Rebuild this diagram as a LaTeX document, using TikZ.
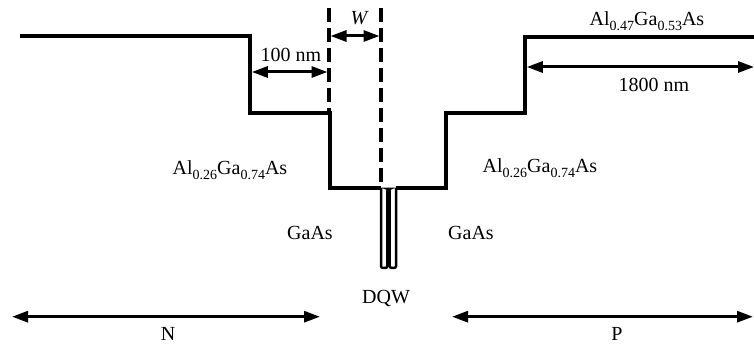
\documentclass[tikz,border=0pt]{standalone}
\usepackage{fontspec}
\setmainfont{Liberation Serif}
\usetikzlibrary{arrows.meta}
\newcommand\subtxt[1]{\raisebox{-5pt}{\fontsize{14}{14}\selectfont #1}}
\begin{document}
\begin{tikzpicture}[x=1pt,y=-1pt,
  band/.style={line width=3.3pt, line join=miter},
  well/.style={line width=2.5pt, rounded corners=2pt},
  guide/.style={line width=3.2pt, dash pattern=on 14pt off 6pt},
  dim/.style={line width=3pt, {Triangle[length=16pt,width=11pt]}-{Triangle[length=16pt,width=11pt]}},
  lbl/.style={font=\fontsize{20}{24}\selectfont, inner sep=0pt, anchor=base}
]
\useasboundingbox (0,0) rectangle (754,344);
% band profile
\coordinate (b0) at (20,36);
\coordinate (b1) at (250,36);
\coordinate (b2) at (250,113);
\coordinate (b3) at (330,113);
\coordinate (b4) at (330,188);
\coordinate (w0) at (381,188);
\coordinate (w1) at (396,188);
\coordinate (c1) at (446,188);
\coordinate (c2) at (446,113);
\coordinate (c3) at (525,113);
\coordinate (c4) at (525,37);
\coordinate (c5) at (754,37);
\draw[band] (b0) -- (b1) -- (b2) -- (b3) -- (b4) -- (w0);
\draw[well] (w0) -- (381,268) -- (387.3,268) -- (387.3,189) -- (389.7,189) -- (389.7,268) -- (396,268) -- (w1);
\draw[band] (w1) -- (c1) -- (c2) -- (c3) -- (c4) -- (c5);
% dashed guides
\coordinate (d1t) at (329,8);
\coordinate (d1b) at (329,112);
\coordinate (d2t) at (381,8);
\coordinate (d2b) at (381,186);
\draw[guide] (d1t) -- (d1b);
\draw[guide] (d2t) -- (d2b);
% dimension arrows
\coordinate (wa) at (330.5,36);
\coordinate (wb) at (379.5,36);
\draw[dim] (wa) -- (wb);
\coordinate (ha) at (251.8,72);
\coordinate (hb) at (327.5,72);
\draw[dim] (ha) -- (hb);
\coordinate (ka) at (526.8,67);
\coordinate (kb) at (754,67);
\draw[dim] (ka) -- (kb);
\coordinate (na) at (12,316.7);
\coordinate (nb) at (320,316.7);
\draw[dim] (na) -- (nb);
\coordinate (pa) at (452,316.7);
\coordinate (pb) at (753,316.7);
\draw[dim] (pa) -- (pb);
% labels
\node[lbl] (lw) at (359,25) {\itshape W};
\node[lbl] (l100) at (291,62) {100 nm};
\node[lbl] (ltop) at (647,26) {Al\subtxt{0.47}Ga\subtxt{0.53}As};
\node[lbl] (l1800) at (654,92) {1800 nm};
\node[lbl] (lalL) at (230,175) {Al\subtxt{0.26}Ga\subtxt{0.74}As};
\node[lbl] (lalR) at (540,173) {Al\subtxt{0.26}Ga\subtxt{0.74}As};
\node[lbl] (lgL) at (310,240) {GaAs};
\node[lbl] (lgR) at (471,240) {GaAs};
\node[lbl] (ldqw) at (386,304) {DQW};
\node[lbl] (lN) at (168,340) {N};
\node[lbl] (lP) at (617,340) {P};
\end{tikzpicture}
\end{document}
